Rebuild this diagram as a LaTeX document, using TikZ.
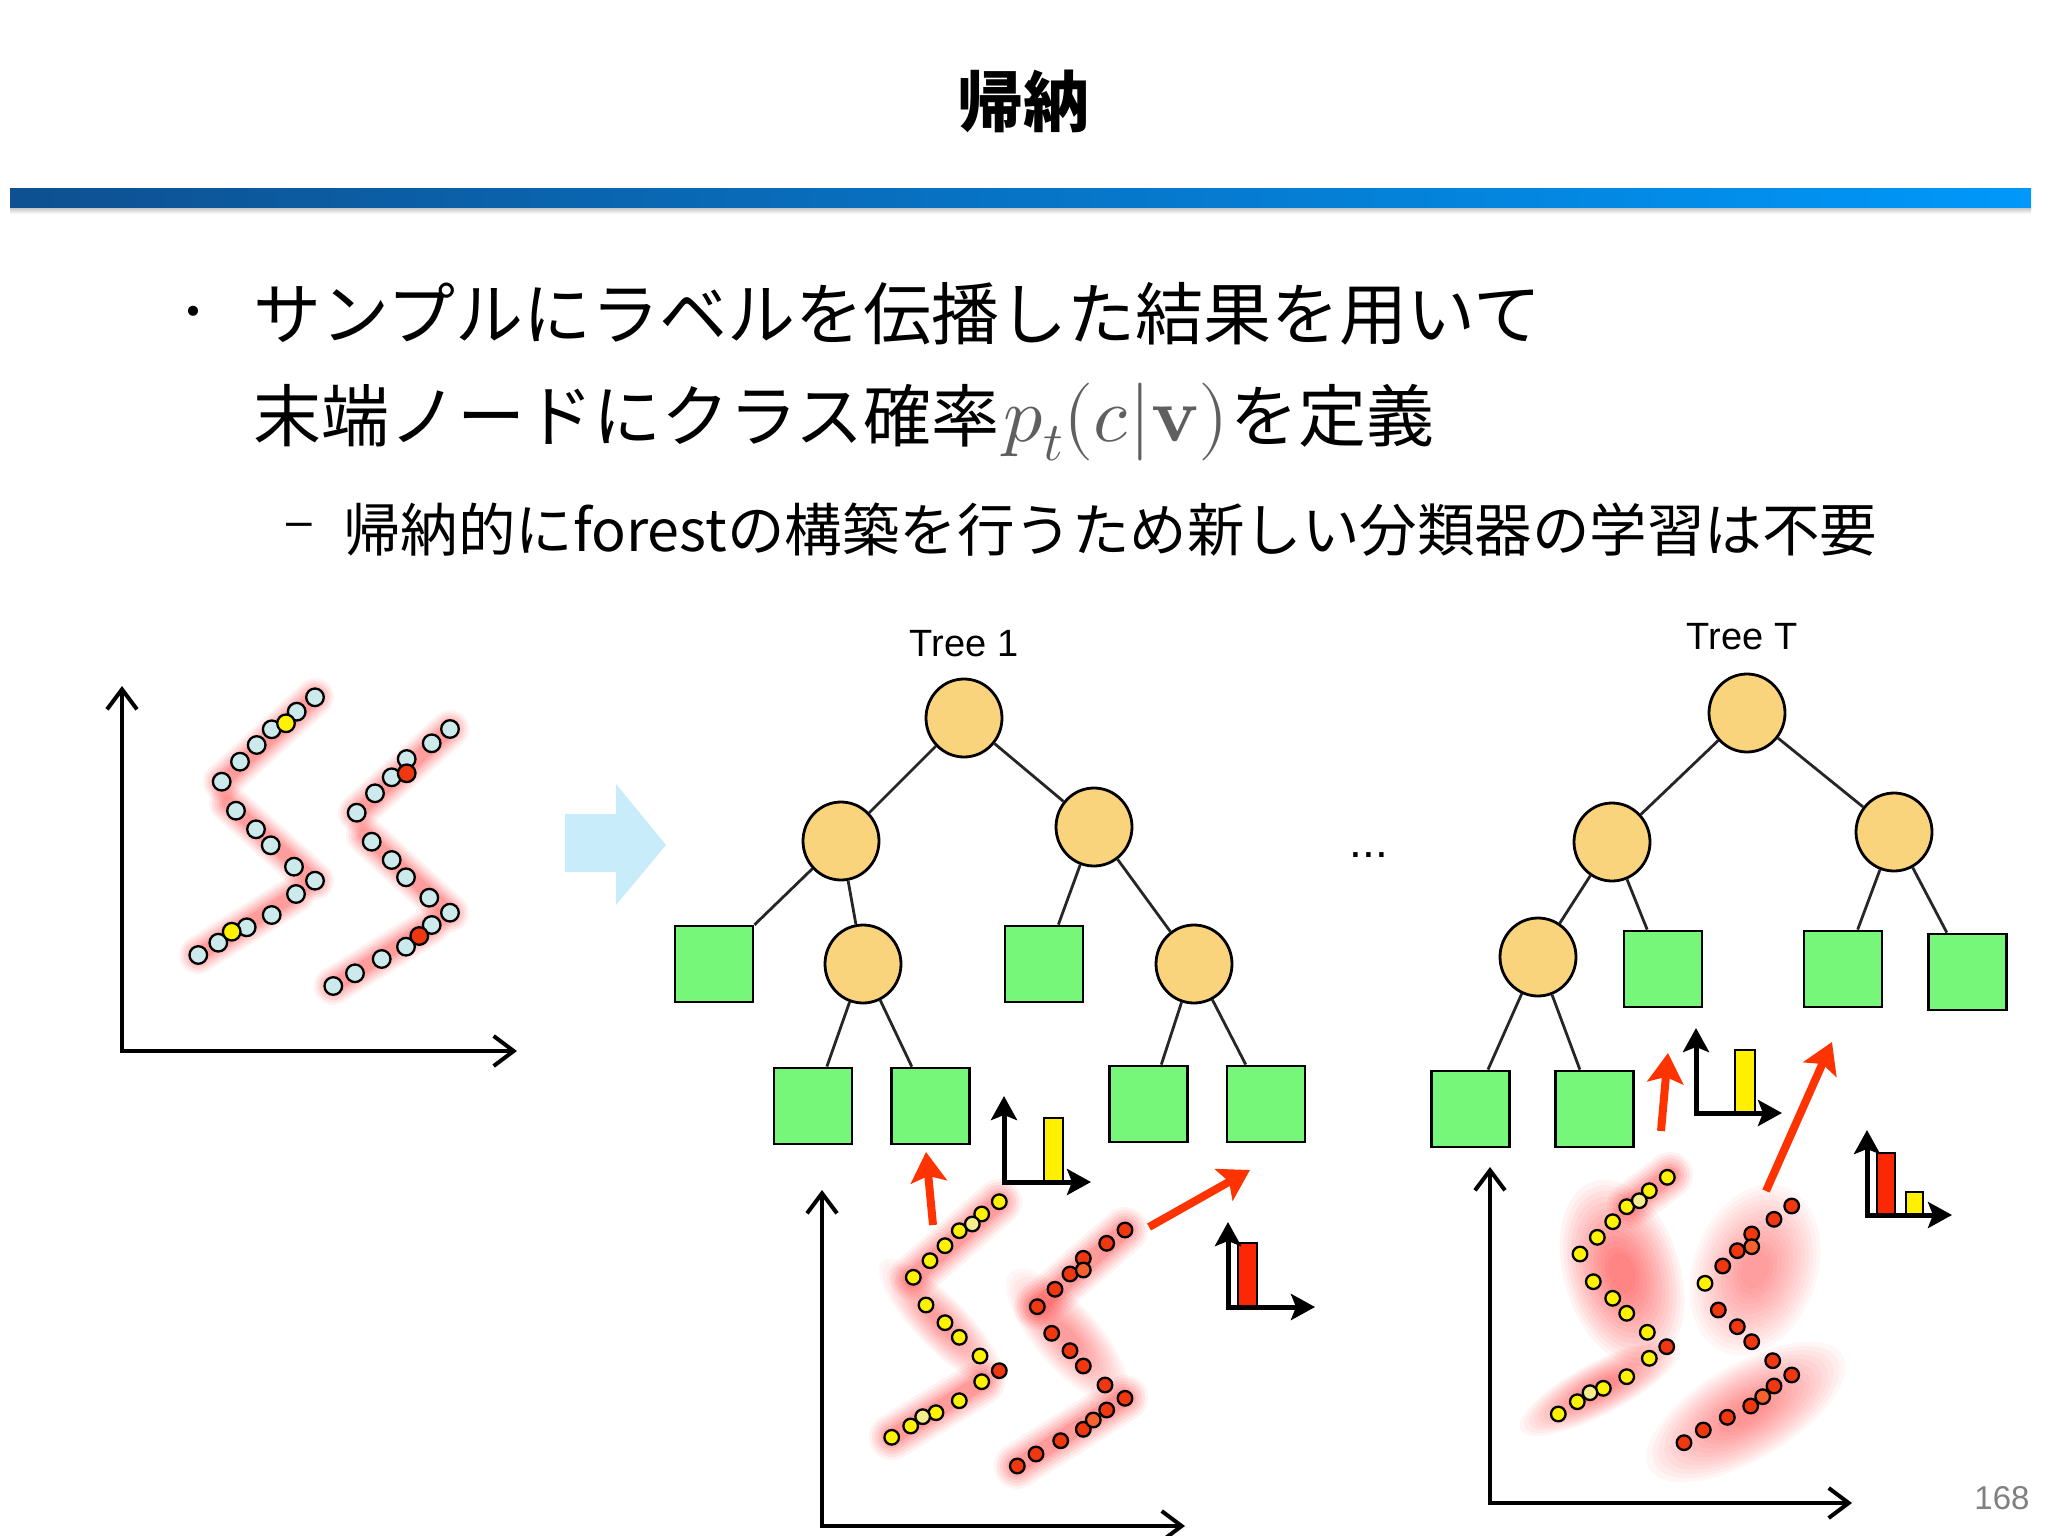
\documentclass[tikz,border=0pt]{standalone}
\usepackage{fontspec}
\usepackage{unicode-math}
\setmathfont{Latin Modern Math}
\setmainfont{Liberation Sans}
\newfontfamily\jp{Noto Sans CJK JP}
\usetikzlibrary{arrows.meta,shapes.geometric}
\definecolor{barL}{RGB}{14,80,145}
\definecolor{barR}{RGB}{0,152,250}
\definecolor{nodeOr}{RGB}{250,211,125}
\definecolor{leafG}{RGB}{118,247,122}
\definecolor{dotC}{RGB}{204,234,236}
\definecolor{dotY}{RGB}{255,242,0}
\definecolor{dotPY}{RGB}{245,236,140}
\definecolor{dotR}{RGB}{240,56,16}
\definecolor{dotLR}{RGB}{245,98,45}
\definecolor{arrRed}{RGB}{255,51,0}
\definecolor{arrBlue}{RGB}{200,236,250}
\definecolor{barY}{RGB}{255,240,0}
\definecolor{barRd}{RGB}{250,40,5}
\definecolor{pgray}{RGB}{128,128,128}
\definecolor{mgray}{RGB}{95,95,95}
\newcommand\fsz[1]{\fontsize{#1}{#1}\selectfont}
\newcommand\pdots[3]{\foreach \pa/\pb in {#3}{\filldraw[fill=#1, draw=black, line width=2.3pt] (\pa,\pb) circle (#2);}}
\newcommand\glowA[2]{\foreach \gw/\gop in {38/0.05,33/0.06,28/0.07,23/0.08,18/0.09,13/0.10}{\draw[red, line width=\gw pt, line cap=round, opacity=\gop] #1 -- #2;}}
\newcommand\glowB[2]{\foreach \gw/\gop in {46/0.05,40/0.06,34/0.07,28/0.08,22/0.09,16/0.11}{\draw[red, line width=\gw pt, line cap=round, opacity=\gop] #1 -- #2;}}
\newcommand\blob[6]{\begin{scope}[shift={(#1,#2)}, rotate=-#5]
 \foreach \bs in {1,0.94,0.88,0.82,0.76,0.70,0.64,0.58,0.52,0.46,0.40,0.34,0.28,0.22}{\pgfmathsetmacro\bra{#3*\bs}\pgfmathsetmacro\brb{#4*\bs}
 \fill[red, opacity=#6] (0,0) ellipse [x radius=\bra, y radius=\brb];}
 \end{scope}}
\tikzset{
 inode/.style={ellipse, draw=black, line width=2.8pt, fill=nodeOr, minimum width=76pt, minimum height=78pt, inner sep=0pt},
 leaf/.style={rectangle, draw=black, line width=2.8pt, fill=leafG, minimum width=78pt, minimum height=76pt, inner sep=0pt},
 treeline/.style={draw=black!85, line width=2.8pt},
 ax/.style={line width=4pt, {Straight Barb[length=20pt,width=30pt]}-{Straight Barb[length=20pt,width=30pt]}},
 hax/.style={line width=5pt, line join=miter, {Stealth[length=24pt,width=26pt,inset=5pt]}-{Stealth[length=24pt,width=26pt,inset=5pt]}},
 rarr/.style={draw=arrRed, line width=8pt, -{Stealth[length=30pt,width=36pt,inset=6pt]}},
 histbar/.style={draw=black, line width=2.5pt},
}
\begin{document}
\begin{tikzpicture}[x=1pt,y=-1pt]
\useasboundingbox (0,0) rectangle (2048,1536);
\fill[white] (0,0) rectangle (2048,1536);
% title and bar
\node[anchor=base, inner sep=0pt, font={\fsz{66}\jp\bfseries}] (title) at (1023,127) {帰納};
\shade[left color=barL, right color=barR] (10,188) rectangle (2031,208);
\shade[top color=black!22, bottom color=white] (10,208) rectangle (2031,214);
% text
\node[inner sep=0pt, font={\fsz{48}\jp}] (bul) at (193,318) {・};
\node[anchor=base west, inner sep=0pt, font={\fsz{68}\jp}] (line1) at (253,339) {サンプルにラベルを伝播した結果を用いて};
\node[anchor=base west, inner sep=0pt, font={\fsz{68}\jp}] (line2) at (253,441) {末端ノードにクラス確率\hspace{4pt}{\fsz{78}\textcolor{mgray}{$p_t(c|\symbf{v})$}}\hspace{2pt}を定義};
\node[inner sep=0pt, font={\fsz{46}}] (dash) at (299,530) {–};
\node[anchor=base west, inner sep=0pt, font={\fsz{57.5}\jp}] (line3) at (343,551) {帰納的にforestの構築を行うため新しい分類器の学習は不要};
% blue arrow
\fill[arrBlue] (565,814) -- (616,814) -- (616,784) -- (666,845) -- (616,905) -- (616,872) -- (565,872) -- cycle;
% glows left plot
\glowA{(315,697)}{(222,782)}
\glowA{(228,803)}{(315,881)}
\glowA{(296,894)}{(198,955)}
\glowA{(450,729)}{(357,813)}
\glowA{(365,835)}{(450,913)}
\glowA{(432,925)}{(333,986)}
% glows middle plot
\glowB{(999,1202)}{(913,1277)}
\blob{941.7}{1323.3}{86}{26}{45.8}{0.03}
\glowB{(982,1382)}{(892,1437)}
\glowB{(1125,1230)}{(1037,1307)}
\blob{1067.5}{1336.7}{86}{32}{48.8}{0.03}
\glowB{(1125,1398)}{(1017,1466)}
% glows right plot
\glowB{(1670,1175)}{(1630,1205)}
\blob{1622}{1273}{96}{58}{72.7}{0.042}
\blob{1600}{1388}{90}{26}{-27.8}{0.04}
\blob{1755}{1270}{88}{62}{-70}{0.03}
\blob{1746}{1412}{112}{48}{-30.5}{0.035}
% axes
\draw[ax] (122,686) -- (122,1051) -- (517,1051);
\draw[ax] (822,1190) -- (822,1526) -- (1185,1526);
\draw[ax] (1490,1167) -- (1490,1503) -- (1852,1503);
% dots left
\pdots{dotC}{8.8}{315/697.3,296.7/711.7,271.7/729.3,256.7/745,240/761.7,221.7/781.7,236/810.7,256/829.3,270.7/845.3,294/866.7,315/880.7,296/894,271.7/915,246.7/927.3,218.3/942.7,198.3/955}
\pdots{dotC}{8.8}{450/729,431.7/743.3,406.7/759,391.7/777.3,375/793.3,356.7/812.7,371.7/841.7,391.7/860,406/877.3,429.3/897.7,450/912.7,431.7/925,406/946.7,381.7/959,355/973.3,333.3/986}
\pdots{dotY}{8.8}{286/723.3,231.7/931.7}
\pdots{dotR}{8.8}{406.7/773.3,419.3/936}
% dots middle
\pdots{dotY}{7.3}{999.3/1201.7,981.7/1214,959.3/1230.7,945/1245.7,930/1260.7,913.3/1277.3,926/1305,945/1322.7,959.3/1337.3,980/1356,981.7/1381.7,959.3/1400.7,936/1412.7,910.7/1426,891.7/1437.3}
\pdots{dotPY}{7.3}{972.3/1224,922.7/1416.7}
\pdots{dotR}{7.3}{999.3/1370.7,1125/1230,1106.7/1243.3,1083.3/1258.3,1070/1274,1055/1289.3,1037.3/1306.7,1051.7/1333.3,1070/1350.7,1083.3/1366,1105/1385,1125/1398.3,1106.7/1410,1083.3/1429.3,1060.7/1440.7,1036/1454,1017.3/1466}
\pdots{dotLR}{7.3}{1083.3/1270,1093.3/1420}
% dots right
\pdots{dotY}{7.3}{1667.3/1177.3,1649.3/1190.7,1626.7/1206.7,1612.7/1221.7,1597.3/1237.3,1580/1254,1593.3/1281.7,1612.7/1298.3,1626.7/1313.3,1647.3/1332.3,1649.3/1358.3,1626.7/1376.7,1603.3/1388.3,1577.3/1401.7,1558.3/1414,1705/1283.3}
\pdots{dotPY}{7.3}{1639.3/1200.7,1590/1392.7}
\pdots{dotR}{7.3}{1666.7/1346.7,1791.7/1206,1774/1219.3,1751.7/1234,1737.3/1250.7,1722.7/1266,1718.3/1310,1737.3/1326.7,1751.7/1341.7,1772.7/1360.7,1791.7/1375,1774/1386,1750.7/1406,1727.3/1417.3,1703.3/1430,1684/1442.7}
\pdots{dotLR}{7.3}{1751.7/1246.7,1762.7/1396.7}
% tree 1
\node[inode] (t1r) at (964,718) {};
\node[inode] (t1a) at (841,841) {};
\node[inode] (t1b) at (1094,827) {};
\node[leaf] (t1s1) at (714,964) {};
\node[inode] (t1c) at (863,964) {};
\node[leaf] (t1s2) at (1044,964) {};
\node[inode] (t1d) at (1194,964) {};
\node[leaf] (t1s3) at (813,1106) {};
\node[leaf] (t1s4) at (930.5,1106) {};
\node[leaf] (t1s5) at (1148.5,1104) {};
\node[leaf] (t1s6) at (1266,1104) {};
\draw[treeline] (t1r) -- (t1a);
\draw[treeline] (t1r) -- (t1b);
\draw[treeline] (t1a) -- (t1s1);
\draw[treeline] (t1a) -- (t1c);
\draw[treeline] (t1b) -- (t1s2);
\draw[treeline] (t1b) -- (t1d);
\draw[treeline] (t1c) -- (t1s3);
\draw[treeline] (t1c) -- (t1s4);
\draw[treeline] (t1d) -- (t1s5);
\draw[treeline] (t1d) -- (t1s6);
% tree T
\node[inode] (ttr) at (1747,713) {};
\node[inode] (tta) at (1612,842) {};
\node[inode] (ttb) at (1894,832) {};
\node[inode] (ttc) at (1538,957) {};
\node[leaf] (tts1) at (1663,969) {};
\node[leaf] (tts2) at (1843,969) {};
\node[leaf] (tts3) at (1967.5,972) {};
\node[leaf] (tts4) at (1470.5,1109) {};
\node[leaf] (tts5) at (1594.5,1109) {};
\draw[treeline] (ttr) -- (tta);
\draw[treeline] (ttr) -- (ttb);
\draw[treeline] (tta) -- (ttc);
\draw[treeline] (tta) -- (tts1);
\draw[treeline] (ttb) -- (tts2);
\draw[treeline] (ttb) -- (tts3);
\draw[treeline] (ttc) -- (tts4);
\draw[treeline] (ttc) -- (tts5);
% histograms
\filldraw[fill=barY, histbar] (1044,1118) rectangle (1063,1182);
\draw[hax] (1004,1096) -- (1004,1182) -- (1091,1182);
\filldraw[fill=barRd, histbar] (1238,1243) rectangle (1257,1307);
\draw[hax] (1228,1222) -- (1228,1307) -- (1315,1307);
\filldraw[fill=barY, histbar] (1735,1050) rectangle (1755,1113);
\draw[hax] (1696,1028) -- (1696,1113) -- (1782,1113);
\filldraw[fill=barRd, histbar] (1877,1153) rectangle (1895,1215);
\filldraw[fill=barY, histbar] (1906,1192) rectangle (1923,1215);
\draw[hax] (1867,1130) -- (1867,1215) -- (1952,1215);
% red arrows
\coordinate (ra1s) at (933,1225); \coordinate (ra1e) at (926,1152);
\coordinate (ra2s) at (1149,1227); \coordinate (ra2e) at (1250,1170);
\coordinate (ra3s) at (1661,1131); \coordinate (ra3e) at (1668,1053);
\coordinate (ra4s) at (1766,1191); \coordinate (ra4e) at (1832,1042);
\draw[rarr] (ra1s) -- (ra1e);
\draw[rarr] (ra2s) -- (ra2e);
\draw[rarr] (ra3s) -- (ra3e);
\draw[rarr] (ra4s) -- (ra4e);
% labels
\node[font={\fsz{38}}] (tree1) at (964,644) {Tree 1};
\node[font={\fsz{38}}] (treeT) at (1742,637) {Tree T};
\node[font={\fsz{46}}, inner sep=0pt] (ell) at (1369,855) {...};
\node[font={\fsz{33}}, text=pgray] (pnum) at (2002,1498) {168};
\end{tikzpicture}
\end{document}
